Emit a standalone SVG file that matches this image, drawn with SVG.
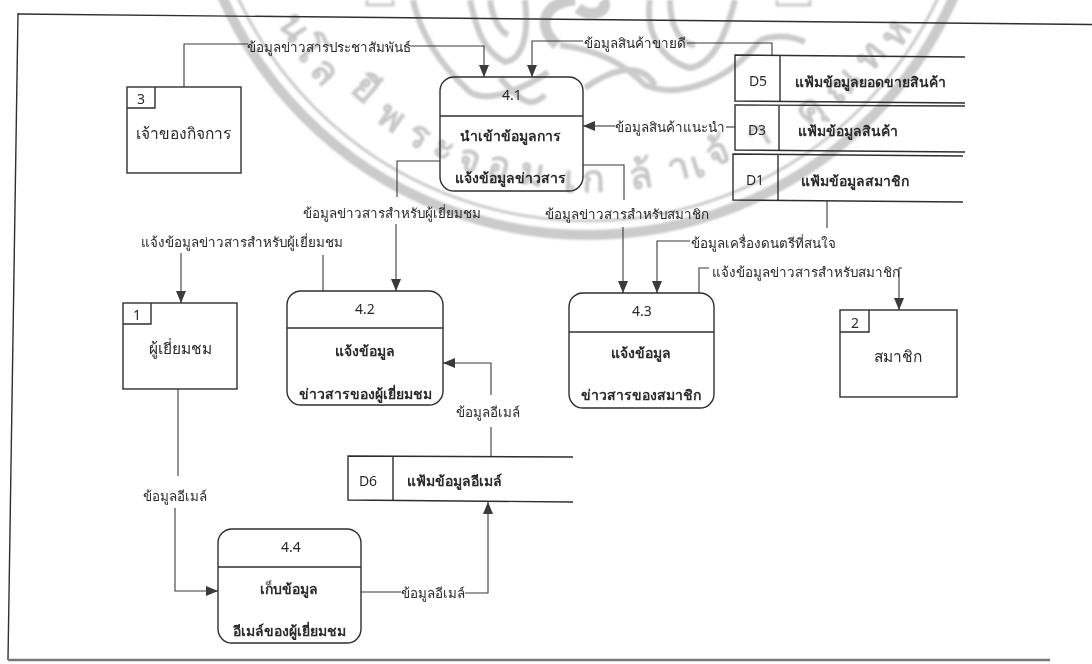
<svg xmlns="http://www.w3.org/2000/svg" width="1092" height="664" viewBox="0 0 1092 664">
<defs>
<style>
text{font-family:"Noto Sans","DejaVu Sans","Liberation Sans",sans-serif;fill:#2a2a2a;text-anchor:middle;dominant-baseline:central}
.l{font-size:13.4px}.b{font-size:14px;font-weight:700}.t{font-size:15.5px}.i{font-size:14px}
.n{fill:none;stroke:#2f2f2f;stroke-width:1.4}
.s{fill:none;stroke:#2f2f2f;stroke-width:1.4}
.c{fill:none;stroke:#3a3a3a;stroke-width:1.1}
.a{fill:none;stroke:#3a3a3a;stroke-width:1.1;marker-end:url(#ah)}
.w{fill:none;stroke:#cbcbcb}
.wt text{font-size:38px;font-weight:700;fill:#c8c8c8}
</style>
<marker id="ah" markerUnits="userSpaceOnUse" viewBox="0 0 12 10" refX="12" refY="5" markerWidth="12" markerHeight="10" orient="auto"><path d="M0 0L12 5L0 10z" fill="#3a3a3a"/></marker>
<filter id="sc" filterUnits="userSpaceOnUse" x="0" y="0" width="1092" height="664"><feGaussianBlur stdDeviation="0.45"/></filter>
<filter id="sw" filterUnits="userSpaceOnUse" x="0" y="0" width="1092" height="664"><feGaussianBlur stdDeviation="0.8"/></filter>
</defs>
<rect width="1092" height="664" fill="#fff"/>
<g id="watermark" filter="url(#sw)">
<circle class="w" cx="588" cy="-165" r="400" stroke-width="10"/>
<circle class="w" cx="588" cy="-165" r="386" stroke-width="3"/>
<g class="wt">
<text transform="translate(297 26) rotate(57)">น</text>
<text transform="translate(310 48) rotate(53)">โ</text>
<text transform="translate(327 70) rotate(48)">ล</text>
<text transform="translate(367 87) rotate(41)">ยี</text>
<text transform="translate(393 115) rotate(35)">พ</text>
<text transform="translate(420 133) rotate(29)">ร</text>
<text transform="translate(445 145) rotate(25)">ะ</text>
<text transform="translate(470 157) rotate(20)">จ</text>
<text transform="translate(500 163) rotate(15)">อ</text>
<text transform="translate(533 170) rotate(9)">ม</text>
<text transform="translate(570 177) rotate(3)">เ</text>
<text transform="translate(593 177) rotate(-1)">ก</text>
<text transform="translate(640 173) rotate(-9)">ล้</text>
<text transform="translate(677 165) rotate(-15)">า</text>
<text transform="translate(697 163) rotate(-18)">เ</text>
<text transform="translate(717 150) rotate(-22)">จ้</text>
<text transform="translate(757 133) rotate(-30)">า</text>
<text transform="translate(807 107) rotate(-39)">คุ</text>
<text transform="translate(840 83) rotate(-45)">ณ</text>
<text transform="translate(868 54) rotate(-52)">ท</text>
<text transform="translate(893 32) rotate(-60)">ห</text>
</g>
<g class="w" stroke-width="6">
<path d="M413 0C420 30 435 60 470 92C490 105 530 85 548 72"/>
<path d="M470 0C475 20 480 50 505 62C520 60 530 40 525 0"/>
<path d="M490 0C492 15 498 30 508 35"/>
<path d="M650 0C645 30 660 60 690 68C710 65 725 40 735 0"/>
<path d="M670 0C670 25 680 45 695 45"/>
<path d="M560 45C600 50 625 65 645 85C680 100 730 80 760 40"/>
<path d="M585 88C610 70 640 60 655 85"/>
<path d="M760 40C775 35 790 35 805 42"/>
<path d="M500 78C520 100 530 110 545 95"/>
<path d="M367 0V5H393V0M777 0V5H810V0" stroke-width="3"/>
</g>
<path class="w" stroke-width="11" d="M557 45C535 25 545 2 575 0M603 0C610 10 592 20 578 8"/>
</g>
<g id="frame"><path d="M18 14L1092 24.5" class="s" stroke-width="1.6"/><path d="M18 13L8 660" class="s"/><path d="M8 660H1050" fill="none" stroke="#777" stroke-width="2.5"/></g>
<g filter="url(#sc)">
<g id="connectors">
<path class="c" d="M184 87V44H248"/><path class="a" d="M410 46H484V77"/>
<path class="c" d="M772 55V43H687"/><path class="a" d="M583 41H532V77"/>
<path class="c" d="M735 127H726"/><path class="a" d="M615 126H583"/>
<path class="c" d="M440 161H397V197"/><path class="a" d="M396 224V291"/>
<path class="c" d="M583 165H624V200"/><path class="a" d="M623 227V293"/>
<path class="c" d="M827 201V228"/><path class="a" d="M690 241H657V293"/>
<path class="c" d="M699 293V268H709"/><path class="a" d="M902 268H899V310"/>
<path class="c" d="M323 291V255"/><path class="a" d="M181 253V303"/>
<path class="c" d="M491 456V427"/><path class="a" d="M491 395V363H443"/>
<path class="c" d="M178 389V476"/><path class="a" d="M175 508V591H218"/>
<path class="c" d="M361 592H401"/><path class="a" d="M465 593H488V502"/>
</g>
<g id="ext3"><rect class="n" x="127" y="87" width="114" height="86"/><path class="s" d="M127 108H155V87"/><text class="i" x="141" y="98">3</text><text class="t" x="183" y="133">เจ้าของกิจการ</text></g>
<g id="ext1"><rect class="n" x="123" y="303" width="114" height="86"/><path class="s" d="M123 324H151V303"/><text class="i" x="137" y="314">1</text><text class="t" x="180" y="348">ผู้เยี่ยมชม</text></g>
<g id="ext2"><rect class="n" x="840" y="310" width="117" height="87"/><path class="s" d="M840 332H869V310"/><text class="i" x="855" y="322">2</text><text class="t" x="898" y="356">สมาชิก</text></g>
<g id="p41"><rect class="n" x="440" y="77" width="143" height="114" rx="14"/><path class="s" d="M440 116H583"/><text class="i" x="512" y="94">4.1</text><text class="b" x="510" y="135">นำเข้าข้อมูลการ</text><text class="b" x="510" y="177">แจ้งข้อมูลข่าวสาร</text></g>
<g id="p42"><rect class="n" x="287" y="291" width="156" height="114" rx="14"/><path class="s" d="M287 328H443"/><text class="i" x="365" y="308">4.2</text><text class="b" x="365" y="350">แจ้งข้อมูล</text><text class="b" x="365" y="393">ข่าวสารของผู้เยี่ยมชม</text></g>
<g id="p43"><rect class="n" x="569" y="293" width="145" height="115" rx="14"/><path class="s" d="M569 332H714"/><text class="i" x="642" y="310">4.3</text><text class="b" x="641" y="352">แจ้งข้อมูล</text><text class="b" x="641" y="394">ข่าวสารของสมาชิก</text></g>
<g id="p44"><rect class="n" x="218" y="529" width="143" height="114" rx="14"/><path class="s" d="M218 567H361"/><text class="i" x="291" y="546">4.4</text><text class="b" x="289" y="588">เก็บข้อมูล</text><text class="b" x="289" y="630">อีเมล์ของผู้เยี่ยมชม</text></g>
<g id="d5"><path class="s" d="M965 57L735 55V101L965 103M780 55V102"/><text class="i" x="758" y="80">D5</text><text class="b" x="870" y="81">แฟ้มข้อมูลยอดขายสินค้า</text></g>
<g id="d3"><path class="s" d="M965 106L735 105V150L965 152M779 105V151"/><text class="i" x="757" y="129">D3</text><text class="b" x="848" y="130">แฟ้มข้อมูลสินค้า</text></g>
<g id="d1"><path class="s" d="M963 156L733 154V200L963 202M778 154V200"/><text class="i" x="755" y="179">D1</text><text class="b" x="855" y="180">แฟ้มข้อมูลสมาชิก</text></g>
<g id="d6"><path class="s" d="M573 457L348 456V500L573 502M393 456V500"/><text class="i" x="368" y="480">D6</text><text class="b" x="454" y="480">แฟ้มข้อมูลอีเมล์</text></g>
<g id="labels">
<text class="l" x="329" y="47">ข้อมูลข่าวสารประชาสัมพันธ์</text>
<text class="l" x="635" y="43">ข้อมูลสินค้าขายดี</text>
<text class="l" x="670" y="127">ข้อมูลสินค้าแนะนำ</text>
<text class="l" x="392" y="213">ข้อมูลข่าวสารสำหรับผู้เยี่ยมชม</text>
<text class="l" x="627" y="214">ข้อมูลข่าวสารสำหรับสมาชิก</text>
<text class="l" x="242" y="242">แจ้งข้อมูลข่าวสารสำหรับผู้เยี่ยมชม</text>
<text class="l" x="763" y="243">ข้อมูลเครื่องดนตรีที่สนใจ</text>
<text class="l" x="806" y="272">แจ้งข้อมูลข่าวสารสำหรับสมาชิก</text>
<text class="l" x="488" y="412">ข้อมูลอีเมล์</text>
<text class="l" x="175" y="496">ข้อมูลอีเมล์</text>
<text class="l" x="433" y="593">ข้อมูลอีเมล์</text>
</g>
</g>
</svg>
